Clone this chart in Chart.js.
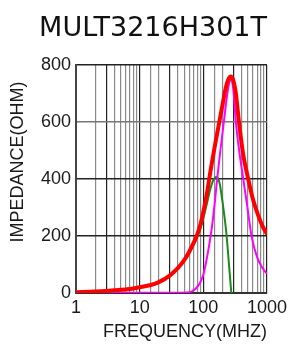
<!DOCTYPE html>
<html>
<head>
<meta charset="utf-8">
<script src="https://cdn.jsdelivr.net/npm/chart.js@4/dist/chart.umd.min.js"></script>
<style>
  html, body { margin: 0; padding: 0; background: #fff; }
  #wrap { width: 292px; height: 344px; }
</style>
</head>
<body>
<div id="wrap"><canvas id="chart" width="292" height="344"></canvas></div>
<script>
// Impedance |Z| (red)
const zFreq = [1, 2, 3, 5, 7, 10, 15, 20, 30, 40, 50, 60, 70, 80, 90, 100, 115, 130, 150, 178, 200, 225, 250, 270, 290, 320, 363, 420, 507, 600, 720, 850, 1000];
const zOhm  = [3, 5, 7, 11, 14, 20, 28, 38, 62, 88, 115, 145, 175, 205, 240, 285, 355, 430, 510, 600, 660, 720, 752, 760, 752, 710, 600, 490, 400, 330, 275, 235, 207];

// Resistance R (magenta)
const rFreq = [1, 10, 30, 55, 65, 75, 88, 100, 112, 125, 138, 150, 165, 185, 210, 235, 260, 275, 295, 324, 370, 424, 500, 572, 700, 850, 1000];
const rOhm  = [1, 1, 1, 2, 5, 14, 34, 65, 115, 175, 240, 310, 400, 500, 600, 690, 745, 750, 715, 600, 490, 400, 290, 200, 125, 88, 67];

// Reactance X (green)
const xFreq = [1, 2, 3, 5, 7, 10, 15, 20, 30, 40, 50, 60, 70, 80, 90, 100, 115, 127, 145, 162, 180, 200, 230, 255, 275];
const xOhm  = [3, 5, 7, 11, 14, 20, 28, 38, 62, 88, 112, 140, 168, 195, 225, 262, 318, 360, 398, 408, 385, 320, 210, 90, 0];

const xTicks = [1, 10, 100, 1000];
const yTicks = [0, 200, 400, 600, 800];

function toPoints(xs, ys) {
    return xs.map(function (f, i) { return { x: f, y: ys[i] }; });
}

// y axis title drawn by hand so it sits where the reference has it
const yTitlePlugin = {
    id: "yTitle",
    afterDraw: function (chart) {
        const ctx = chart.ctx;
        ctx.save();
        ctx.translate(18, 162);
        ctx.rotate(-Math.PI / 2);
        ctx.font = "18px 'Liberation Sans', Arial, sans-serif";
        ctx.fillStyle = "#1a1a1a";
        ctx.textAlign = "center";
        ctx.textBaseline = "middle";
        ctx.fillText("IMPEDANCE(OHM)", 0, 0);
        ctx.restore();
    }
};

const ctx = document.getElementById("chart").getContext("2d");
new Chart(ctx, {
    type: "line",
    data: {
        datasets: [
            {
                label: "Z",
                data: toPoints(zFreq, zOhm),
                borderColor: "#ff0000",
                borderWidth: 4,
                order: 0
            },
            {
                label: "R",
                data: toPoints(rFreq, rOhm),
                borderColor: "#ff00ff",
                borderWidth: 2,
                order: 1
            },
            {
                label: "X",
                data: toPoints(xFreq, xOhm),
                borderColor: "#1a8a1a",
                borderWidth: 2,
                order: 2
            }
        ]
    },
    options: {
        responsive: false,
        animation: false,
        layout: { padding: { left: 0, right: 25, top: 0, bottom: 0 } },
        elements: {
            point: { radius: 0 },
            line: { cubicInterpolationMode: "monotone", fill: false }
        },
        plugins: {
            legend: { display: false },
            tooltip: { enabled: false },
            title: {
                display: true,
                text: "MULT3216H301T",
                align: "end",
                color: "#111",
                font: { family: "'DejaVu Sans', Verdana, sans-serif", size: 27, weight: "normal" },
                padding: { top: 13, bottom: 19.6 }
            }
        },
        scales: {
            x: {
                type: "logarithmic",
                min: 1,
                max: 1000,
                afterFit: function (scale) { scale.height = 51; },
                border: { color: "#333", width: 2 },
                grid: {
                    drawTicks: false,
                    lineWidth: 1.2,
                    color: function (c) {
                        const v = c.tick ? c.tick.value : 0;
                        const lead = v / Math.pow(10, Math.floor(Math.log10(v) + 1e-9));
                        if (Math.abs(lead - 1) < 1e-6 || Math.abs(lead - 3) < 1e-6) return "#222";
                        return "#8a8a8a";
                    }
                },
                ticks: {
                    autoSkip: false,
                    maxRotation: 0,
                    padding: 4,
                    color: "#1a1a1a",
                    font: { family: "'Liberation Sans', Arial, sans-serif", size: 18 },
                    callback: function (value) {
                        return xTicks.indexOf(value) >= 0 ? String(value) : "";
                    }
                },
                title: {
                    display: true,
                    text: "FREQUENCY(MHZ)",
                    align: "end",
                    color: "#1a1a1a",
                    font: { family: "'Liberation Sans', Arial, sans-serif", size: 18 },
                    padding: { top: 0, bottom: 1 }
                }
            },
            y: {
                min: 0,
                max: 800,
                afterFit: function (scale) { scale.width = 76; },
                afterBuildTicks: function (scale) {
                    scale.ticks = yTicks.map(function (v) { return { value: v }; });
                },
                border: { color: "#444", width: 2 },
                grid: {
                    drawTicks: false,
                    lineWidth: 1.5,
                    color: function (c) {
                        const v = c.tick ? c.tick.value : 0;
                        if (v === 600) return "#777";
                        return "#222";
                    }
                },
                ticks: {
                    padding: 5,
                    color: "#1a1a1a",
                    font: { family: "'Liberation Sans', Arial, sans-serif", size: 18 }
                }
            }
        }
    },
    plugins: [yTitlePlugin]
});
</script>
</body>
</html>
